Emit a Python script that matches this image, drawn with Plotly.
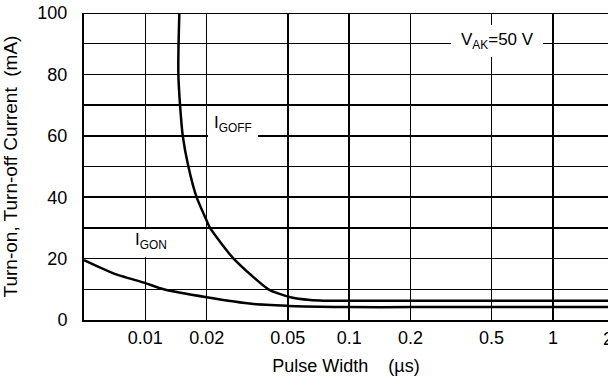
import math
import plotly.graph_objects as go

# ---- data ----
pulse_goff = [0.01468, 0.01455, 0.01452, 0.0148, 0.01526, 0.01626, 0.01784,
              0.01986, 0.02077, 0.0271, 0.0402, 0.0515, 0.0643, 0.075, 0.1, 0.2, 0.5, 1, 2]
i_goff = [100, 90, 80, 70, 60, 50, 40, 32.8, 30, 20, 10, 7.4, 6.5, 6.3, 6.3, 6.3, 6.3, 6.3, 6.3]

pulse_gon = [0.005, 0.00697, 0.01, 0.0123, 0.02, 0.0339, 0.05, 0.072, 0.1, 0.2, 0.5, 1, 2]
i_gon = [19.5, 15.2, 12.0, 10.0, 7.4, 5.2, 4.6, 4.3, 4.2, 4.2, 4.2, 4.2, 4.2]

x_tickvals = [0.01, 0.02, 0.05, 0.1, 0.2, 0.5, 1]
x_ticktext = ["0.01", "0.02", "0.05", "0.1", "0.2", "0.5", "1"]
x_last_tick = "2"
y_tickvals = [0, 20, 40, 60, 80, 100]
y_ticktext = ["0", "20", "40", "60", "80", "100"]
y_minor_grid = [10, 30, 50, 70, 90]

FONT = "Liberation Sans, Arial, sans-serif"
FS = 17
FS_TICK = 18
FS_TITLE = 19

fig = go.Figure()
fig.add_trace(go.Scatter(x=pulse_goff, y=i_goff, mode="lines",
                         line=dict(color="black", width=2.5, shape="spline", smoothing=0.6),
                         name="IGOFF", showlegend=False, cliponaxis=True, hoverinfo="skip"))
fig.add_trace(go.Scatter(x=pulse_gon, y=i_gon, mode="lines",
                         line=dict(color="black", width=2.5, shape="spline", smoothing=0.6),
                         name="IGON", showlegend=False, cliponaxis=True, hoverinfo="skip"))

# top border of the plot area
fig.add_shape(type="line", xref="paper", yref="y", x0=0, x1=1, y0=100, y1=100,
              line=dict(color="black", width=2), layer="above")

# white gaps in the grid behind labels
gaps = [
    (0.0203, 0.0357, 56.5, 63.0),   # IGOFF
    (0.316, 0.893, 85.7, 96.1),     # VAK
    (0.0082, 0.0132, 20.4, 29.6),   # IGON
]
for x0, x1, y0, y1 in gaps:
    fig.add_shape(type="rect", xref="x", yref="y", x0=x0, x1=x1, y0=y0, y1=y1,
                  fillcolor="white", line=dict(width=0), layer="between")

ann_font = dict(family=FONT, size=FS, color="black")
fig.add_annotation(x=math.log10(0.0268), y=63.8, xref="x", yref="y",
                   text="I<sub>GOFF</sub>", showarrow=False, font=ann_font)
fig.add_annotation(x=math.log10(0.535), y=91.0, xref="x", yref="y",
                   text="V<sub>AK</sub>=50 V", showarrow=False, font=ann_font)
fig.add_annotation(x=math.log10(0.0106), y=25.8, xref="x", yref="y",
                   text="I<sub>GON</sub>", showarrow=False, font=ann_font)
# partially visible last tick label (cut by the page edge, as in the reference)
fig.add_annotation(x=1, y=0, xref="paper", yref="paper", xanchor="left", yanchor="top",
                   xshift=-7, yshift=-7, text=x_last_tick, showarrow=False,
                   font=dict(family=FONT, size=FS_TICK, color="black"))

fig.update_xaxes(type="log", range=[math.log10(0.005), math.log10(1.862)],
                 tickvals=x_tickvals, ticktext=x_ticktext,
                 showgrid=True, gridcolor="black", gridwidth=1.5,
                 showline=True, linecolor="black", linewidth=2, mirror=False,
                 ticks="", tickfont=dict(family=FONT, size=FS_TICK, color="black"),
                 ticklabeloverflow="allow", showspikes=False,
                 zeroline=False, automargin=False,
                 title=dict(text="Pulse Width\u00a0\u00a0\u00a0\u00a0(\u00b5s)",
                            font=dict(family=FONT, size=FS_TITLE - 1, color="black"), standoff=13))
fig.update_yaxes(range=[0, 100], tickvals=y_tickvals, ticktext=y_ticktext,
                 showgrid=True, gridcolor="black", gridwidth=1.5,
                 minor=dict(tickvals=y_minor_grid, showgrid=True, gridcolor="black",
                            gridwidth=1.5, ticks=""),
                 showline=True, linecolor="black", linewidth=2, mirror=False,
                 ticks="", ticklabelstandoff=11, ticklabeloverflow="allow",
                 tickfont=dict(family=FONT, size=FS_TICK, color="black"),
                 zeroline=False, automargin=False, showspikes=False,
                 title=dict(text="Turn-on, Turn-off Current\u00a0\u00a0(mA)",
                            font=dict(family=FONT, size=FS_TITLE, color="black"), standoff=16))

fig.update_layout(width=608, height=385, template="none",
                  margin=dict(l=84, r=0, t=13, b=65),
                  paper_bgcolor="white", plot_bgcolor="white",
                  hovermode=False, dragmode=False,
                  font=dict(family=FONT, size=FS, color="black"))

# remove the default 8px page margin so the figure fills the window exactly
fig.write_html("out.html", config={"displayModeBar": False, "staticPlot": True},
               post_script="document.body.style.margin='0px';")
